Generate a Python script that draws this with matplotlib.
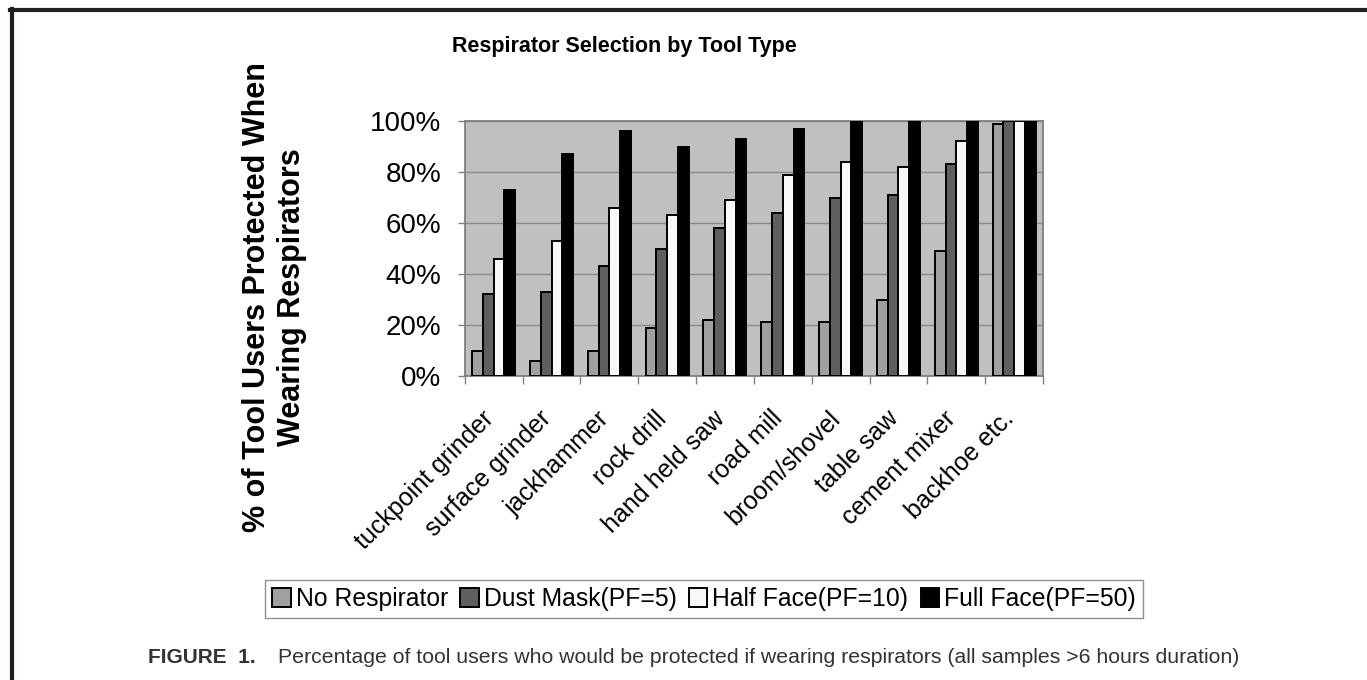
import numpy as np
import matplotlib.pyplot as plt
from matplotlib.lines import Line2D
from matplotlib.ticker import FixedLocator, FuncFormatter
from matplotlib.transforms import ScaledTranslation

plt.rcParams['font.family'] = ['Liberation Sans', 'DejaVu Sans']

# values (percent of tool users protected)
tools = ["tuckpoint grinder", "surface grinder", "jackhammer", "rock drill",
         "hand held saw", "road mill", "broom/shovel", "table saw",
         "cement mixer", "backhoe etc."]
no_respirator = [10, 6, 10, 19, 22, 21, 21, 30, 49, 99]
dust_mask = [32, 33, 43, 50, 58, 64, 70, 71, 83, 100]
half_face = [46, 53, 66, 63, 69, 79, 84, 82, 92, 100]
full_face = [73, 87, 96, 90, 93, 97, 100, 100, 100, 100]

series = [
    ("No Respirator", no_respirator, "#a0a0a0"),
    ("Dust Mask(PF=5)", dust_mask, "#5f5f5f"),
    ("Half Face(PF=10)", half_face, "#f8f8f8"),
    ("Full Face(PF=50)", full_face, "#000000"),
]

fig = plt.figure(figsize=(13.67, 6.8), dpi=100)
ax = fig.add_axes([0.340, 0.447, 0.423, 0.375])
ax.set_facecolor("#c0c0c0")

x = np.arange(len(tools))
bw = 0.186
for i, (name, vals, col) in enumerate(series):
    ax.bar(x + (i - 1.5) * bw, vals, bw, color=col, edgecolor="black",
           linewidth=1.4, label=name, zorder=3)

ax.set_xlim(-0.5, len(tools) - 0.5)
ax.set_ylim(0, 100)
ax.set_yticks([0, 20, 40, 60, 80, 100])
ax.yaxis.set_major_formatter(FuncFormatter(lambda v, p: f"{v:.0f}%"))
ax.grid(axis="y", color="#8a8a8a", linewidth=1.0, zorder=1)
ax.tick_params(axis="y", labelsize=20, length=5, width=1, color="#808080", pad=12)

ax.set_xticks(x)
ax.set_xticklabels(tools, rotation=45, ha="right", va="center",
                   rotation_mode="anchor", fontsize=18)
ax.tick_params(axis="x", which="major", length=0, pad=28)
shift = ScaledTranslation(-4 / 100, 0, fig.dpi_scale_trans)
for lab in ax.get_xticklabels():
    lab.set_transform(lab.get_transform() + shift)
ax.xaxis.set_minor_locator(FixedLocator(np.arange(-0.5, len(tools), 1.0)))
ax.tick_params(axis="x", which="minor", length=6, width=1, color="#808080")

for s in ax.spines.values():
    s.set_color("#808080")
    s.set_linewidth(1.3)

fig.text(0.457, 0.932, "Respirator Selection by Tool Type", ha="center",
         va="center", fontsize=15.5, fontweight="bold")
fig.text(0.201, 0.563, "% of Tool Users Protected When\nWearing Respirators",
         rotation=90, ha="center", va="center", multialignment="center",
         fontsize=22, fontweight="bold", linespacing=1.2)

leg = fig.legend(loc="center", bbox_to_anchor=(0.515, 0.119), ncol=4,
                 fontsize=17.8, frameon=True, fancybox=False, framealpha=1,
                 edgecolor="#909090", handlelength=0.75, handleheight=0.75,
                 handletextpad=0.2, columnspacing=0.5, borderpad=0.3)
leg.get_frame().set_linewidth(1.0)

fig.text(0.108, 0.033, "FIGURE  1.", ha="left", va="center", fontsize=15,
         fontweight="bold", color="#333333")
fig.text(0.203, 0.033, "Percentage of tool users who would be protected if "
         "wearing respirators (all samples >6 hours duration)", ha="left",
         va="center", fontsize=15.3, color="#333333")

# page frame (top and left edges)
fig.add_artist(Line2D([0.0075, 1.0], [0.985, 0.985], color="#231f20",
                      linewidth=3, transform=fig.transFigure))
fig.add_artist(Line2D([0.0085, 0.0085], [0.0, 0.987], color="#231f20",
                      linewidth=3, transform=fig.transFigure))

fig.savefig("out.png", dpi=100)
